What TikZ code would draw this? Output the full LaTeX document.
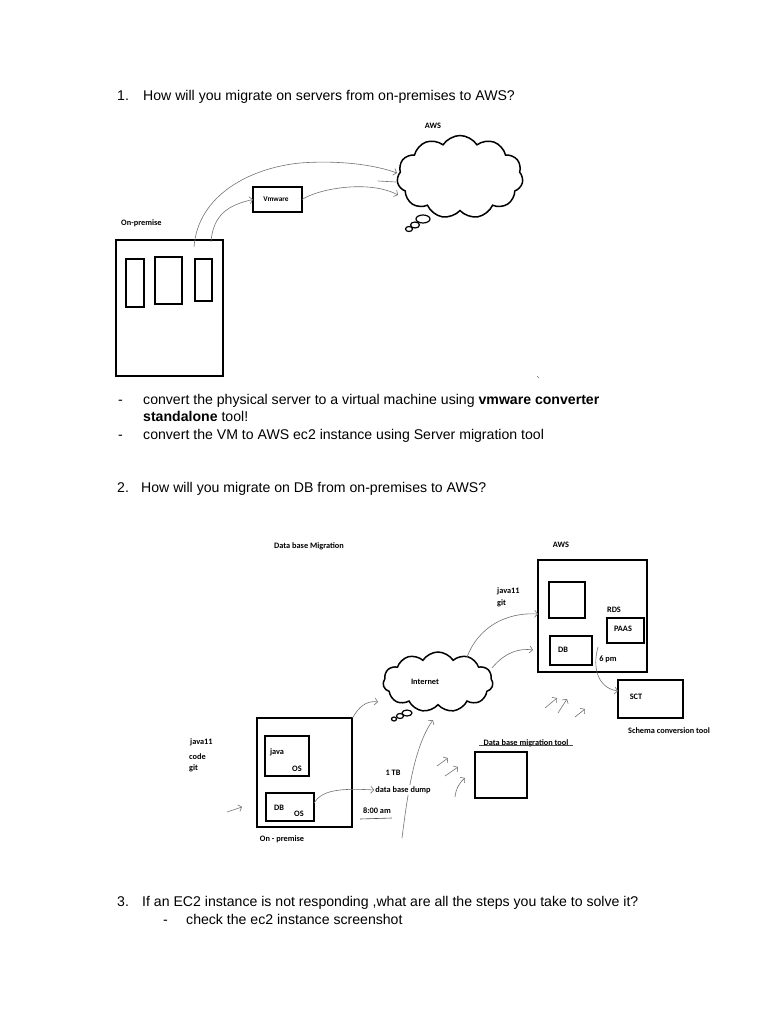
\documentclass[tikz,border=0pt]{standalone}
\usepackage{fontspec}
\setmainfont{Liberation Sans}
\newfontfamily\lblfam{Carlito Bold}
\usetikzlibrary{shapes.symbols,shapes.geometric,arrows.meta,calc}
\begin{document}
\begin{tikzpicture}[x=1pt,y=-1pt,
  box/.style={draw, line width=1.6pt, inner sep=0pt, outer sep=0pt},
  lbl/.style={font=\lblfam\fontsize{8.3}{9}\selectfont, inner sep=0pt},
  body/.style={font=\fontsize{14.1}{16}\selectfont, anchor=base west, inner sep=0pt},
  wire/.style={draw=black!55, line width=0.6pt},
  hook/.style={wire, -{Straight Barb[length=3pt,width=7pt]}},
  cloudbox/.style={draw, cloud, cloud puffs=11, cloud puff arc=115, line width=1.5pt, inner sep=0pt},
  bub/.style={draw, ellipse, line width=1.2pt, inner sep=0pt}
]
\useasboundingbox[fill=white] (0,0) rectangle (768,1024);

% ---------- text ----------
\node[body] (n1) at (117,101) {1.};
\node[body] (q1) at (143,101) {How will you migrate on servers from on-premises to AWS?};
\node[body] (d1) at (118,404) {-};
\node[body] (t1) at (143,404) {convert the physical server to a virtual machine using \textbf{vmware converter}};
\node[body] (t1b) at (143,421) {\textbf{standalone} tool!};
\node[body] (d2) at (118,439) {-};
\node[body] (t2) at (143,439) {convert the VM to AWS ec2 instance using Server migration tool};
\node[body] (n2) at (117,492) {2.};
\node[body] (q2) at (141,492) {How will you migrate on DB from on-premises to AWS?};
\node[body] (n3) at (117,906) {3.};
\node[body] (q3) at (142,906) {If an EC2 instance is not responding ,what are all the steps you take to solve it?};
\node[body] (d3) at (163,924) {-};
\node[body] (t3) at (186,924) {check the ec2 instance screenshot};

% ---------- diagram 1 ----------
\node[lbl] (awslbl) at (433,126) {AWS};
\node[cloudbox, minimum width=126pt, minimum height=83pt] (awsc) at (460,177) {};
\node[bub, minimum width=14pt, minimum height=8pt] (b1) at (423,219) {};
\node[bub, minimum width=9pt, minimum height=6pt] (b2) at (415,225) {};
\node[bub, minimum width=7pt, minimum height=5pt] (b3) at (409,229) {};

\node[box, line width=1.3pt, minimum width=49pt, minimum height=25pt] (vm) at (277.5,199.5) {};
\node[lbl, font=\lblfam\fontsize{7.3}{8}\selectfont] (vmlbl) at (276,199) {Vmware};
\node[lbl, anchor=west] (oplbl) at (121,223) {On-premise};

\node[box, minimum width=107pt, minimum height=136pt] (srv) at (169.5,308) {};
\node[box, minimum width=18pt, minimum height=48pt] (s1) at (135,283) {};
\node[box, minimum width=27pt, minimum height=47pt] (s2) at (168.5,280.5) {};
\node[box, minimum width=17pt, minimum height=42pt] (s3) at (203.5,280) {};

\coordinate (c1s) at ([xshift=24.5pt,yshift=-7pt]srv.north);
\coordinate (c1e) at (397,173);
\draw[hook] (c1s) .. controls (198,195) and (250,168) .. (300,163) .. controls (340,160) and (375,165) .. (c1e);
\coordinate (c2s) at ([xshift=41.5pt,yshift=-2pt]srv.north);
\draw[hook] (c2s) .. controls (213,215) and (228,205) .. (vm.west);
\coordinate (c3e) at (398,195);
\draw[hook] (vm.east) .. controls (320,188) and (370,180) .. (c3e);
\draw[wire] (378,181) -- (396,182);
\draw[wire] (537,376) -- (539,378);

% ---------- diagram 2 ----------
\node[lbl] (dbmig) at (309,546) {Data base Migration};
\node[lbl] (aws2) at (561,545) {AWS};

\node[box, minimum width=109pt, minimum height=112pt] (awsbox) at (592.5,616) {};
\node[box, minimum width=36pt, minimum height=36pt] (empty) at (567,600) {};
\node[lbl] (rds) at (614,610) {RDS};
\node[box, minimum width=37pt, minimum height=25pt] (paas) at (625.5,630.5) {};
\node[lbl] (paaslbl) at (623,629) {PAAS};
\node[box, minimum width=42pt, minimum height=29pt] (awsdb) at (571,650.5) {};
\node[lbl] (awsdblbl) at (563,650) {DB};
\node[lbl] (sixpm) at (608,659) {6 pm};
\node[lbl, anchor=west] (j11b) at (497,591) {java11};
\node[lbl, anchor=west] (gitb) at (497,603) {git};

\node[box, minimum width=65pt, minimum height=38pt] (sct) at (650.5,699) {};
\node[lbl] (sctlbl) at (636,697) {SCT};
\node[lbl] (schema) at (669,731) {Schema conversion tool};

\node[cloudbox, minimum width=110pt, minimum height=60pt] (inet) at (438,682) {};
\node[lbl] (inetlbl) at (425,682) {Internet};
\node[bub, minimum width=10pt, minimum height=6pt] (ib1) at (407,713) {};
\node[bub, minimum width=7pt, minimum height=5pt] (ib2) at (400,716) {};
\node[bub, minimum width=5pt, minimum height=4pt] (ib3) at (394,719) {};

\node[box, minimum width=95pt, minimum height=109pt] (onprem) at (304.5,772.5) {};
\node[box, minimum width=44pt, minimum height=40pt] (java) at (287,756) {};
\node[lbl] (javalbl) at (277,752) {java};
\node[lbl] (os1) at (297,769) {OS};
\node[box, minimum width=48pt, minimum height=28pt] (db) at (290,807) {};
\node[lbl] (dblbl) at (279,808) {DB};
\node[lbl] (os2) at (299,814) {OS};
\node[lbl] (oplbl2) at (282,839) {On - premise};
\node[lbl, anchor=west] (j11a) at (190,742) {java11};
\node[lbl, anchor=west] (code) at (189,757) {code};
\node[lbl, anchor=west] (gita) at (189,768) {git};

\node[lbl] (tb) at (393,773) {1 TB};
\coordinate (b5s) at (402,838);
\coordinate (b5e) at (433,720);
\draw[hook] (b5s) .. controls (408,790) and (415,745) .. (b5e);
\node[lbl, fill=white, inner sep=1pt] (dump) at (403,790) {data base dump};
\node[lbl] (eight) at (377,811) {8:00 am};
\draw[wire, draw=black!70] (360,819) -- (392,818);

\node[lbl] (dbmt) at (526,743) {Data base migration tool};
\draw[wire, draw=black!70] (479,745.5) -- (573,745.5);
\node[box, minimum width=52pt, minimum height=46pt] (dbmtbox) at (501,775) {};

% connectors
\coordinate (b1s) at (467,657);
\draw[hook] (b1s) .. controls (478,628) and (505,612) .. ([yshift=2pt]awsbox.west);
\coordinate (b2s) at (492,668);
\coordinate (b2e) at (533,650);
\draw[hook] (b2s) .. controls (505,652) and (520,648) .. (b2e);
\coordinate (b3s) at ([xshift=48pt]onprem.north);
\coordinate (b3e) at (378,702);
\draw[hook] (b3s) .. controls (358,708) and (366,700) .. (b3e);
\draw[hook] ([yshift=4pt]db.east) .. controls (322,790) and (340,788) .. (dump.west);
\coordinate (b6s) at (598,647);
\draw[hook] (b6s) .. controls (592,668) and (598,688) .. ([yshift=8pt]sct.west);

% free hand marks
\draw[hook] (545,708) -- (557,698);
\draw[hook] (558,713) -- (567,699);
\draw[hook] (575,717) -- (585,709);
\draw[hook] (437,766) -- (448,758);
\draw[hook] (445,776) -- (458,767);
\draw[hook] (455,797) .. controls (456,788) and (460,782) .. (465,778);
\draw[hook] (227,812) -- (242,807);
\end{tikzpicture}
\end{document}
